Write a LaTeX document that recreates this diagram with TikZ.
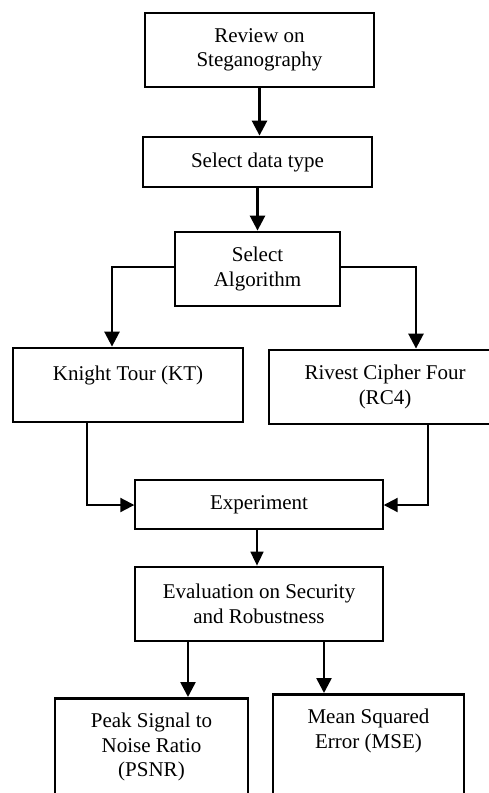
\documentclass[tikz,border=0pt]{standalone}
\usepackage{fontspec}
\setmainfont{Liberation Serif}
\usetikzlibrary{arrows.meta,calc}
\begin{document}
\begin{tikzpicture}[x=1pt,y=-1pt,
  box/.style={draw, line width=2.8pt, inner sep=0pt, align=center, font=\fontsize{21}{24.5}\selectfont},
  thinbox/.style={box, line width=1.4pt},
  txt/.style={inner sep=0pt, align=center, font=\fontsize{21}{24.5}\selectfont},
  arr/.style={line width=2.6pt, -{Triangle[length=15pt,width=15pt]}},
  arrthin/.style={line width=1.7pt, -{Triangle[length=14pt,width=13pt]}},
  link/.style={line width=2.1pt, -{Triangle[length=14pt,width=14pt]}}]
\clip (0,0) rectangle (489,793);
\fill[white] (0,0) rectangle (489,793);
\node[box, minimum width=229pt, minimum height=74pt] (review) at (259.5,50) {Review on\\Steganography};
\node[box, minimum width=229pt, minimum height=50pt] (dtype) at (257.5,162) {Select data type};
\node[box, minimum width=165pt, minimum height=74pt] (algo) at (257.5,269) {Select\\Algorithm};
\node[box, minimum width=230pt, minimum height=74pt] (knight) at (128,385) {Knight Tour (KT)\\\mbox{}};
\node[box, minimum width=232pt, minimum height=74pt] (rc4) at (385,387) {Rivest Cipher Four\\(RC4)};
\node[thinbox, minimum width=248pt, minimum height=49pt] (exp) at (259,504.5) {Experiment};
\node[box, minimum width=248pt, minimum height=74pt] (eval) at (259,604) {Evaluation on Security\\and Robustness};
\node[box, minimum width=193pt, minimum height=140pt, anchor=north] (psnr) at (151.5,697) {};
\node[txt, anchor=north] (psnrt) at ($(psnr.north)+(0,16)$) {Peak Signal to\\Noise Ratio\\(PSNR)};
\node[box, minimum width=191pt, minimum height=140pt, anchor=north] (mse) at (368.5,693) {};
\node[txt, anchor=north] (mset) at ($(mse.north)+(0,16)$) {Mean Squared\\Error (MSE)};
\coordinate (al) at (112,267);
\coordinate (ar) at (416,267);
\coordinate (kl) at (87,505);
\coordinate (rr) at (428,505);
\coordinate (el) at (188,0);
\coordinate (er) at (324,0);
\draw[arr] (review.south) -- (review.south |- dtype.north);
\draw[arr] (dtype.south) -- (algo.north);
\draw[arr] (algo.west |- al) -- (al) -- (al |- knight.north);
\draw[arr] (algo.east |- ar) -- (ar) -- (ar |- rc4.north);
\draw[link] (kl |- knight.south) -- (kl) -- (exp.west |- kl);
\draw[link] (rr |- rc4.south) -- (rr) -- (exp.east |- rr);
\draw[arrthin] (exp.south -| 257,0) -- (eval.north -| 257,0);
\draw[arr] (el |- eval.south) -- (el |- psnr.north);
\draw[arr] (er |- eval.south) -- (er |- mse.north);
\end{tikzpicture}
\end{document}
